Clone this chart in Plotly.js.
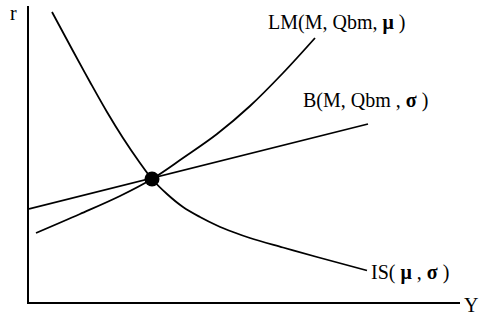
<!DOCTYPE html>
<html>
<head>
<meta charset="utf-8">
<script src="https://cdn.plot.ly/plotly-3.0.1.min.js"></script>
<style>html,body{margin:0;padding:0;background:#fff;}#chart{width:487px;height:316px;}</style>
</head>
<body>
<div id="chart"></div>
<script>
// IS curve
const isX = [23, 44, 61, 78, 94, 111, 123, 138, 154, 171, 188, 204, 221, 254, 288, 338];
const isY = [290, 251, 220, 190, 164, 139, 123, 108, 95, 85, 76.5, 70, 64, 54.5, 45, 31.5];
// LM curve
const lmX = [7, 51, 91, 123, 154, 188, 221, 254, 286];
const lmY = [69, 88, 106, 123, 144, 168, 196, 229, 264];
// B line
const bX = [0, 339];
const bY = [93, 178];
// equilibrium
const eqX = [123];
const eqY = [123];
// labels
const labelIS = "IS( <b>μ</b> , <b>σ</b> )";
const labelLM = "LM(M, Qbm, <b>μ</b> )";
const labelB = "B(M, Qbm , <b>σ</b> )";
const labelR = "r";
const labelY = "Y";

const lineStyle = {color: "#000", width: 1.8, shape: "spline", smoothing: 1};
const traces = [
  {x: isX, y: isY, mode: "lines", line: lineStyle, hoverinfo: "skip"},
  {x: lmX, y: lmY, mode: "lines", line: lineStyle, hoverinfo: "skip"},
  {x: bX, y: bY, mode: "lines", line: {color: "#000", width: 1.8}, hoverinfo: "skip"},
  {x: eqX, y: eqY, mode: "markers", marker: {color: "#000", size: 15}, hoverinfo: "skip"}
];
const font = {family: "Liberation Serif, Times New Roman, serif", size: 20, color: "#000"};
const layout = {
  width: 487, height: 316,
  margin: {l: 29, r: 27, t: 6, b: 14},
  paper_bgcolor: "#fff", plot_bgcolor: "#fff",
  showlegend: false,
  xaxis: {range: [0, 431], showline: true, linecolor: "#000", linewidth: 2, showgrid: false, zeroline: false, showticklabels: false, ticks: ""},
  yaxis: {range: [0, 296], showline: true, linecolor: "#000", linewidth: 2, showgrid: false, zeroline: false, showticklabels: false, ticks: ""},
  annotations: [
    {text: labelLM, x: 237, y: 280, xref: "x", yref: "y", xanchor: "left", yanchor: "middle", showarrow: false, font: font},
    {text: labelB, x: 272, y: 202, xref: "x", yref: "y", xanchor: "left", yanchor: "middle", showarrow: false, font: font},
    {text: labelIS, x: 340, y: 30, xref: "x", yref: "y", xanchor: "left", yanchor: "middle", showarrow: false, font: font},
    {text: labelR, x: -0.037, y: 0.976, xref: "paper", yref: "paper", xanchor: "center", yanchor: "middle", showarrow: false, font: font},
    {text: labelY, x: 1.026, y: -0.01, xref: "paper", yref: "paper", xanchor: "center", yanchor: "middle", showarrow: false, font: font}
  ]
};
Plotly.newPlot("chart", traces, layout, {displayModeBar: false, staticPlot: true});
</script>
</body>
</html>
